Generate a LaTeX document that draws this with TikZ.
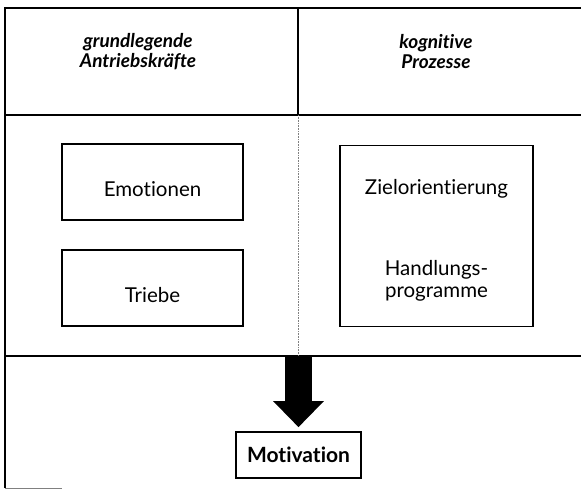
\documentclass[tikz,border=0pt]{standalone}
\usepackage{fontspec}
\setmainfont{Lato}[Ligatures=NoCommon]
\usetikzlibrary{arrows.meta}
\begin{document}
\begin{tikzpicture}[x=1pt,y=-1pt,
  frame/.style={line width=2pt},
  itembox/.style={draw,line width=1.8pt,inner sep=0pt},
  plain/.style={inner sep=0pt,align=center,font=\fontsize{20.5}{22}\selectfont},
  head/.style={inner sep=0pt,align=center,font=\fontsize{19}{20}\selectfont\bfseries\itshape},
  bigarrow/.style={line width=27pt,-{Triangle[width=49pt,length=26pt]},shorten >=4pt}]
\useasboundingbox (0,0) rectangle (581,489);
% table frame
\draw[frame] (581,8) -- (5,8) -- (5,488);
\draw[frame] (5,115) -- (581,115);
\draw[frame] (5,356) -- (581,356);
\draw[frame] (298,8) -- (298,115);
\draw[gray,line width=0.6pt,densely dotted] (298,115) -- (298,356);
\draw[gray,line width=1pt] (5,488) -- (62,488);
% headers
\node[head] (h1) at (138,52) {grundlegende\\Antriebskräfte};
\node[head] (h2) at (436,52) {kognitive\\Prozesse};
% boxes
\node[itembox,minimum width=181pt,minimum height=76pt] (emo) at (152.5,182) {};
\node[plain] (emot) at (152.5,189) {Emotionen};
\node[itembox,minimum width=181pt,minimum height=76pt] (trieb) at (152.5,288) {};
\node[plain] (triebt) at (152.5,295) {Triebe};
\node[itembox,minimum width=193pt,minimum height=181pt] (kog) at (436.5,236) {};
\node[plain] (ziel) at (436.5,189) {Zielorientierung};
\node[plain] (hand) at (436.5,281) {Handlungs-\\programme};
% motivation
\node[draw,line width=1.6pt,inner sep=0pt,minimum width=125pt,minimum height=46pt,font=\fontsize{21}{23}\selectfont\bfseries] (mot) at (298.5,455) {Motivation};
\coordinate (astart) at (298.5,356);
\draw[bigarrow] (astart) -- (mot.north);
\end{tikzpicture}
\end{document}
